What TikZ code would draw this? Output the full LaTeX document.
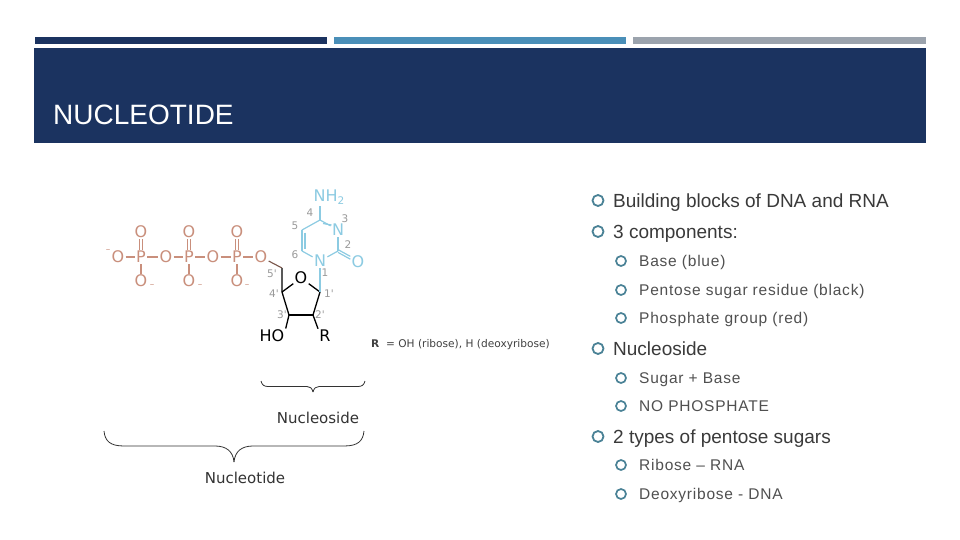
\documentclass[tikz,border=0pt]{standalone}
\usepackage{fontspec}
\usetikzlibrary{calc}
\setmainfont{Liberation Sans}
\newfontfamily\chemfont{DejaVu Sans}
\newfontfamily\spacedfont[LetterSpace=5]{Liberation Sans}
\definecolor{navy}{HTML}{1B3360}
\definecolor{midblue}{HTML}{4A8FB8}
\definecolor{barGray}{HTML}{9BA3AD}
\definecolor{bulletTeal}{HTML}{4A8296}
\definecolor{txtDark}{HTML}{3A3A3A}
\definecolor{txtMid}{HTML}{505050}
\definecolor{baseBlue}{HTML}{8CCBE2}
\definecolor{phosRed}{HTML}{C98F7C}
\definecolor{numGray}{HTML}{9A9A9A}
\tikzset{
  x=1pt,y=-1pt,
  bar/.style={fill=#1,draw=none},
  lvlone/.style={anchor=base west,inner sep=0pt,text=txtDark,font=\fontsize{19}{21}\selectfont},
  lvltwo/.style={anchor=base west,inner sep=0pt,text=txtMid,font=\fontsize{15.5}{18}\spacedfont},
  bulone/.style={circle,draw=bulletTeal,line width=1.8pt,minimum size=11pt,inner sep=0pt},
  bultwo/.style={circle,draw=bulletTeal,line width=1.7pt,minimum size=10pt,inner sep=0pt},
  atom/.style={inner sep=1.2pt,font=\fontsize{16}{16}\chemfont},
  redatom/.style={atom,text=phosRed},
  blueatom/.style={atom,text=baseBlue},
  blackatom/.style={atom,text=black},
  num/.style={inner sep=0pt,text=numGray,font=\fontsize{10.5}{11}\chemfont},
  minus/.style={inner sep=0pt,text=phosRed,font=\fontsize{9}{9}\chemfont},
  redb/.style={draw=phosRed,line width=1.1pt},
  blueb/.style={draw=baseBlue,line width=1.2pt},
  blackb/.style={draw=black,line width=1.3pt},
  txtlabel/.style={inner sep=0pt,text=#1,font=\fontsize{15}{16}\chemfont},
  bracebar/.style={draw=black!80,line width=0.8pt}
}
\begin{document}
\begin{tikzpicture}
\useasboundingbox (0,0) rectangle (960,540);
\fill[white] (0,0) rectangle (960,540);
% top bars
\path[bar=navy] (35,37) rectangle (327,44);
\path[bar=midblue] (334,37) rectangle (626,44);
\path[bar=barGray] (633,37) rectangle (926,44);
\path[bar=navy] (34,48) rectangle (926,143);
\node[anchor=base west,inner sep=0pt,text=white,font=\fontsize{28}{30}\selectfont] (title) at (53,125) {NUCLEOTIDE};
% phosphates
\node[redatom] (o1) at (118,257) {O};
\node[redatom] (p1) at (141,257) {P};
\node[redatom] (o2) at (166,257) {O};
\node[redatom] (p2) at (189,257) {P};
\node[redatom] (o3) at (213,257) {O};
\node[redatom] (p3) at (237,257) {P};
\node[redatom] (o4) at (261,257) {O};
\node[redatom] (t1) at (141,232) {O};
\node[redatom] (t2) at (189,232) {O};
\node[redatom] (t3) at (237,232) {O};
\node[redatom] (b1) at (141,281) {O};
\node[redatom] (b2) at (189,281) {O};
\node[redatom] (b3) at (237,281) {O};
\node[minus] (mn0) at (108,251) {–};
\node[minus] (mn1) at (152,286) {–};
\node[minus] (mn2) at (200,286) {–};
\node[minus] (mn3) at (247,286) {–};
\draw[redb] (o1)--(p1); \draw[redb] (p1)--(o2); \draw[redb] (o2)--(p2);
\draw[redb] (p2)--(o3); \draw[redb] (o3)--(p3); \draw[redb] (p3)--(o4);
\foreach \i in {1,2,3}{
  \draw[redb] (p\i)--(b\i);
  \draw[redb,transform canvas={xshift=-1.6pt}] (p\i)--(t\i);
  \draw[redb,transform canvas={xshift=1.6pt}] (p\i)--(t\i);
}
% sugar
\coordinate (c5p) at (282,268);
\coordinate (c4p) at (282,292);
\coordinate (c3p) at (289,315);
\coordinate (c2p) at (313,315);
\coordinate (c1p) at (320,292);
\node[blackatom] (osug) at (301,278) {O};
\node[blackatom] (ho) at (272,336) {HO};
\node[blackatom] (rr) at (325,336) {R};
\draw[draw=phosRed!60!black,line width=1.1pt] (o4)--(c5p);
\draw[draw=black!65,line width=1.5pt] (c5p)--(c4p);
\draw[blackb] (c4p)--(osug);
\draw[blackb] (osug)--(c1p);
\draw[blackb] (c1p)--(c2p);
\draw[blackb,line width=1.6pt] (c2p)--(c3p);
\draw[blackb] (c3p)--(c4p);
\draw[blackb] (c3p)--(ho.north east);
\draw[blackb] (c2p)--(rr.north west);
% base
\node[blueatom] (nh) at (329,197) {NH\raisebox{-3pt}{\fontsize{10.5}{11}\selectfont 2}};
\node[blueatom] (n3) at (338,230) {N};
\node[blueatom] (n1) at (320,261) {N};
\node[blueatom] (odb) at (358,262) {O};
\coordinate (c4) at (320,220);
\coordinate (c5) at (302,230);
\coordinate (c6) at (302,251);
\coordinate (c2) at (338,251);
\coordinate (nhb) at (320,206);
\draw[blueb] (c4)--(nhb);
\draw[blueb] (c4)--(c5);
\draw[blueb] (c5)--(c6);
\draw[blueb] ($(c5)+(3,2.5)$)--($(c6)+(3,-2.5)$);
\draw[blueb] (c6)--(n1);
\draw[blueb] (n1)--(c2);
\draw[blueb] (c2)--(n3);
\draw[blueb] (n3)--(c4);
\draw[blueb] ($(n3)+(-6.5,-5)$)--($(c4)+(3,3.5)$);
\draw[blueb,transform canvas={yshift=-1.4pt}] (c2)--(odb);
\draw[blueb,transform canvas={yshift=1.4pt}] (c2)--(odb);
\draw[blueb] (n1)--(c1p);
% numbers
\node[num] (nb4) at (310,213) {4};
\node[num] (nb3) at (345,219) {3};
\node[num] (nb5) at (295,226) {5};
\node[num] (nb2) at (348,245) {2};
\node[num] (nb6) at (295,255) {6};
\node[num] (nb1) at (325,273) {1};
\node[num] (nb5p) at (272,274) {5'};
\node[num] (nb4p) at (274,294) {4'};
\node[num] (nb1p) at (329,294) {1'};
\node[num] (nb3p) at (282,315) {3'};
\node[num] (nb2p) at (320,315) {2'};
% R label
\node[txtlabel=black!75,anchor=base west,font=\fontsize{10.6}{11}\chemfont] (rlab) at (371,347) {\textbf{R}\ \ = OH (ribose), H (deoxyribose)};
% braces
\coordinate (ns1) at (261,381);
\coordinate (ns2) at (313,392);
\coordinate (ns3) at (365,381);
\coordinate (nt1) at (104,431);
\coordinate (nt2) at (234,462);
\coordinate (nt3) at (364,431);
\draw[bracebar] (ns1) .. controls (262,385) and (264,386.5) .. (268,386.5) -- (307,386.5) .. controls (310,386.5) and (312,388) .. (ns2);
\draw[bracebar] (ns3) .. controls (364,385) and (362,386.5) .. (358,386.5) -- (319,386.5) .. controls (316,386.5) and (314,388) .. (ns2);
\draw[bracebar] (nt1) .. controls (105,441) and (110,446) .. (124,446) -- (215,446) .. controls (226,446) and (233,451) .. (nt2);
\draw[bracebar] (nt3) .. controls (363,441) and (358,446) .. (344,446) -- (253,446) .. controls (242,446) and (235,451) .. (nt2);
\node[txtlabel=black!80] (nsl) at (318,417.5) {Nucleoside};
\node[txtlabel=black!80] (ntl) at (245,478) {Nucleotide};
% bullets
\node[bulone] (a1) at (598,200.5) {}; \node[lvlone] (ta1) at (613,207) {Building blocks of DNA and RNA};
\node[bulone] (a2) at (598,231.5) {}; \node[lvlone] (ta2) at (613,238) {3 components:};
\node[bultwo] (b1x) at (621,261) {}; \node[lvltwo] (tb1) at (639,266.5) {Base (blue)};
\node[bultwo] (b2x) at (621,290) {}; \node[lvltwo] (tb2) at (639,295.5) {Pentose sugar residue (black)};
\node[bultwo] (b3x) at (621,318) {}; \node[lvltwo] (tb3) at (639,323.5) {Phosphate group (red)};
\node[bulone] (a3) at (598,348.5) {}; \node[lvlone] (ta3) at (613,355) {Nucleoside};
\node[bultwo] (b4x) at (621,378) {}; \node[lvltwo] (tb4) at (639,383.5) {Sugar + Base};
\node[bultwo] (b5x) at (621,406) {}; \node[lvltwo] (tb5) at (639,411.5) {NO PHOSPHATE};
\node[bulone] (a4) at (598,436.5) {}; \node[lvlone] (ta4) at (613,443) {2 types of pentose sugars};
\node[bultwo] (b6x) at (621,465) {}; \node[lvltwo] (tb6) at (639,470.5) {Ribose – RNA};
\node[bultwo] (b7x) at (621,494) {}; \node[lvltwo] (tb7) at (639,499.5) {Deoxyribose - DNA};
\end{tikzpicture}
\end{document}
